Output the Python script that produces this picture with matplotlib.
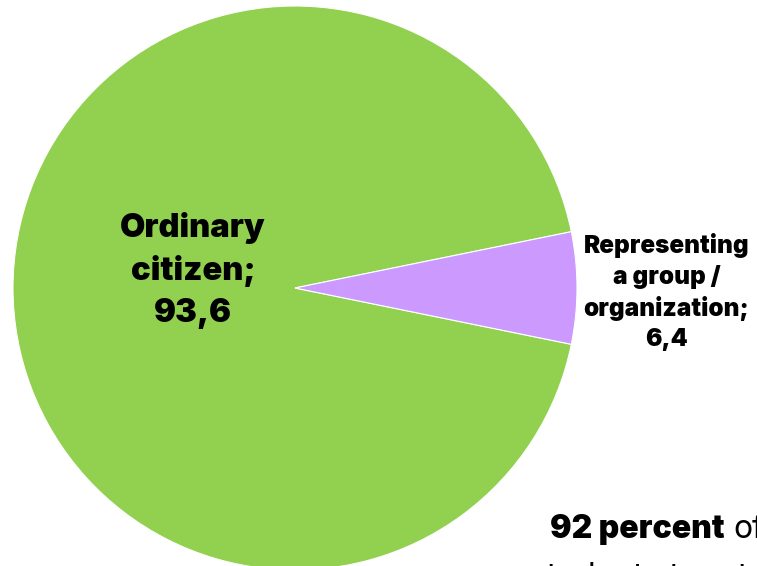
import matplotlib
matplotlib.use('Agg')
import matplotlib.pyplot as plt

# Data
labels = ['Ordinary\ncitizen;\n93,6', 'Representing\na group /\norganization;\n6,4']
values = [93.6, 6.4]
colors = ['#92D050', '#CC99FF']
caption_bold = '92 percent'
caption_rest = 'of'
caption_line2 = 'students to rate the'

W, H = 757, 566
fig = plt.figure(figsize=(W / 100, H / 100), dpi=100)

# Pie centre and radius in pixels (from top-left)
cx, cy, r = 295, 288, 282
ax = fig.add_axes([(cx - r) / W, (H - cy - r) / H, 2 * r / W, 2 * r / H])

# purple slice centred on the right side
start = values[1] / 100 * 360 / 2
ax.pie(values, colors=colors, startangle=start, counterclock=True,
       radius=1.0, wedgeprops=dict(edgecolor='white', linewidth=0.8),
       frame=False)
ax.set_xlim(-1, 1)
ax.set_ylim(-1, 1)
ax.set_aspect('equal')
ax.axis('off')

font = ['Inter', 'DejaVu Sans']
ax.text(-0.362, 0.062, labels[0], ha='center', va='center', fontsize=23.5,
        fontweight=900, family=font, linespacing=1.43)
ax.text(1.317, -0.014, labels[1], ha='center', va='center', fontsize=17.5,
        fontweight=900, family=font, linespacing=1.38)

# caption text at the bottom right, cut off by the edge as in the reference
t1 = fig.text(550 / W, (H - 538) / H, caption_bold, ha='left', va='baseline',
              fontsize=23, fontweight=900, family=font)
renderer = fig.canvas.get_renderer()
bb = t1.get_window_extent(renderer)
fig.text((bb.x1 + 9) / W, (H - 538) / H, caption_rest, ha='left', va='baseline',
         fontsize=23, family=font)
fig.text(530 / W, (H - 586) / H, caption_line2, ha='left', va='baseline',
         fontsize=23, family=font)

fig.savefig('out.png', dpi=100)
